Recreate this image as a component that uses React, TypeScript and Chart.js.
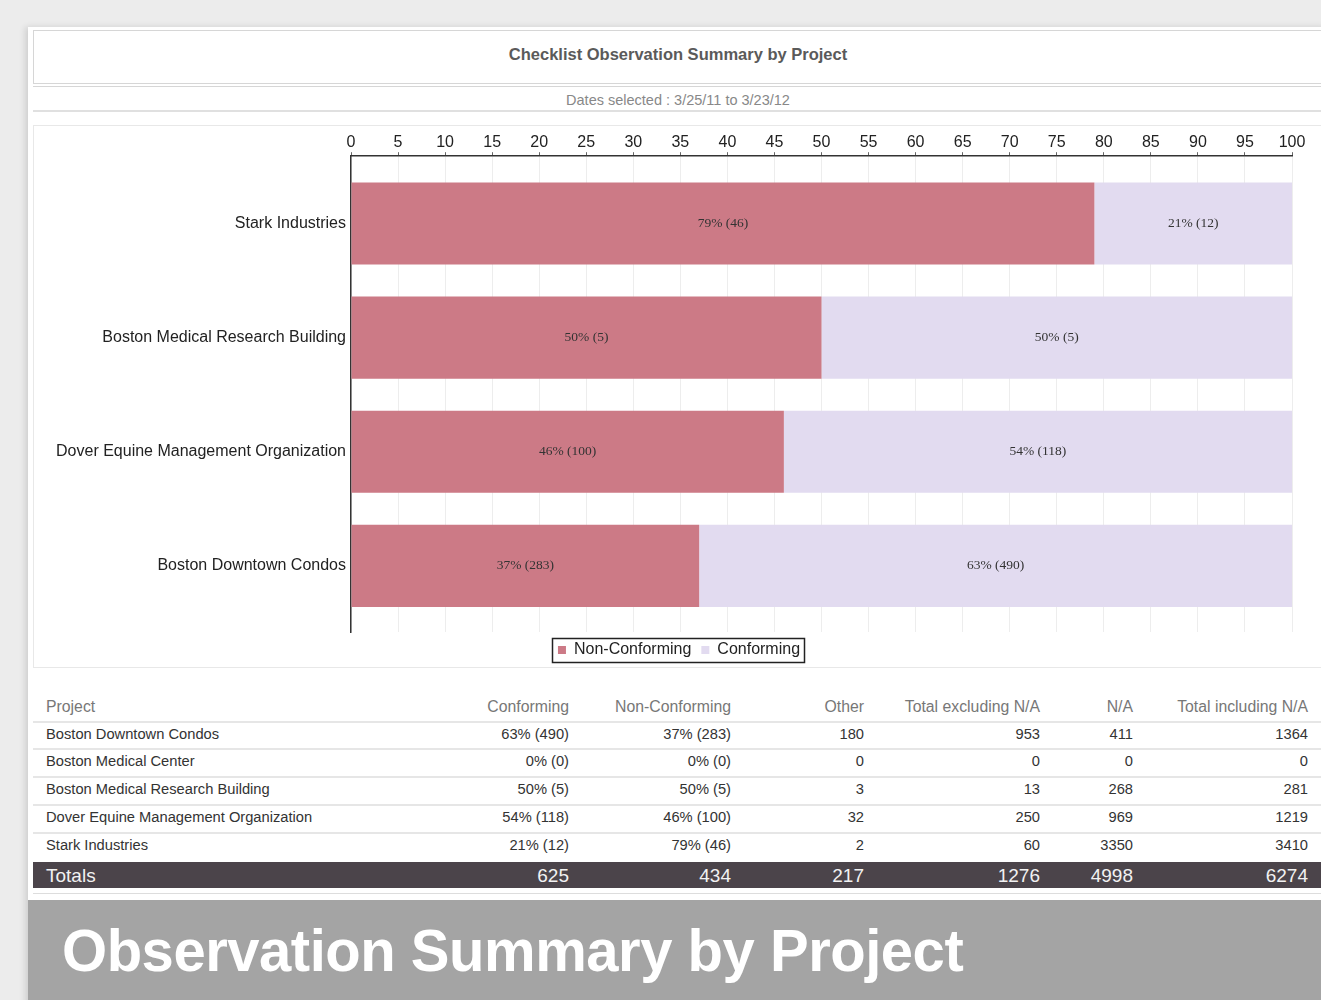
import React, { useEffect, useRef } from "react";
import { Chart, registerables } from "chart.js";

Chart.register(...registerables);

const projects = [
  "Stark Industries",
  "Boston Medical Research Building",
  "Dover Equine Management Organization",
  "Boston Downtown Condos",
];
const nonConformingPct = [79, 50, 46, 37];
const nonConformingCount = [46, 5, 100, 283];
const conformingPct = [21, 50, 54, 63];
const conformingCount = [12, 5, 118, 490];
const xTicks = [0, 100, 5];

const tableHeaders = ["Project", "Conforming", "Non-Conforming", "Other", "Total excluding N/A", "N/A", "Total including N/A"];
const tableProjects = ["Boston Downtown Condos", "Boston Medical Center", "Boston Medical Research Building", "Dover Equine Management Organization", "Stark Industries"];
const tableConforming = ["63% (490)", "0% (0)", "50% (5)", "54% (118)", "21% (12)"];
const tableNonConforming = ["37% (283)", "0% (0)", "50% (5)", "46% (100)", "79% (46)"];
const tableOther = ["180", "0", "3", "32", "2"];
const tableTotalExcl = ["953", "0", "13", "250", "60"];
const tableNA = ["411", "0", "268", "969", "3350"];
const tableTotalIncl = ["1364", "0", "281", "1219", "3410"];
const totalsRow = ["Totals", "625", "434", "217", "1276", "4998", "6274"];

const NC_COLOR = "rgb(204,122,134)";
const C_COLOR = "rgb(226,219,240)";
const FONT = "'Liberation Sans', Arial, sans-serif";

const colRight = [null, 569, 731, 864, 1040, 1133, 1308];

export default function App() {
  const ref = useRef<HTMLCanvasElement | null>(null);

  useEffect(() => {
    document.body.style.margin = "0";
    const canvas = ref.current;
    if (!canvas) return;
    const labelsPlugin = {
      id: "segLabels",
      afterLayout(chart: any) {
        if (chart.legend) chart.legend.left += 25;
      },
      afterDatasetsDraw(chart: any) {
        const ctx = chart.ctx;
        ctx.save();
        ctx.font = "13.5px 'Liberation Serif', 'DejaVu Serif', serif";
        ctx.fillStyle = "#333";
        ctx.textAlign = "center";
        ctx.textBaseline = "middle";
        chart.data.datasets.forEach((ds: any, di: number) => {
          const meta = chart.getDatasetMeta(di);
          meta.data.forEach((el: any, i: number) => {
            const cx = (el.x + el.base) / 2;
            ctx.fillText(ds.segText[i], cx, el.y);
          });
        });
        ctx.restore();
      },
      afterDraw(chart: any) {
        const lg = chart.legend;
        if (!lg || !lg.legendHitBoxes || !lg.legendHitBoxes.length) return;
        const hb = lg.legendHitBoxes;
        const l = Math.min(...hb.map((h: any) => h.left)) - 6;
        const r = Math.max(...hb.map((h: any) => h.left + h.width)) + 4;
        const t = Math.min(...hb.map((h: any) => h.top)) - 4;
        const b = Math.max(...hb.map((h: any) => h.top + h.height)) + 4;
        const ctx = chart.ctx;
        ctx.save();
        ctx.strokeStyle = "#222";
        ctx.lineWidth = 1.5;
        ctx.strokeRect(Math.round(l) + 0.5, Math.round(t) + 0.5, Math.round(r - l), Math.round(b - t));
        ctx.restore();
      },
    };
    const chart = new Chart(canvas, {
      type: "bar",
      data: {
        datasets: [
          {
            label: "Non-Conforming",
            data: nonConformingPct.map((v, i) => ({ x: v, y: i })),
            backgroundColor: NC_COLOR,
            borderWidth: 0,
            barPercentage: 0.72,
            categoryPercentage: 1,
            segText: nonConformingPct.map((p, i) => `${p}% (${nonConformingCount[i]})`),
          } as any,
          {
            label: "Conforming",
            data: conformingPct.map((v, i) => ({ x: v, y: i })),
            backgroundColor: C_COLOR,
            borderWidth: 0,
            barPercentage: 0.72,
            categoryPercentage: 1,
            segText: conformingPct.map((p, i) => `${p}% (${conformingCount[i]})`),
          } as any,
        ],
      },
      options: {
        indexAxis: "y",
        animation: false,
        responsive: false,
        maintainAspectRatio: false,
        layout: { padding: { left: 8, right: 29, top: 8, bottom: 0 } },
        scales: {
          x: {
            type: "linear",
            position: "top",
            stacked: true,
            min: xTicks[0],
            max: xTicks[1],
            ticks: { stepSize: xTicks[2], color: "#222", font: { size: 16, family: FONT }, padding: 0 },
            grid: { color: "rgba(0,0,0,0.07)", tickLength: 4, tickColor: "#666", drawOnChartArea: true },
            border: { color: "#333", width: 1.5 },
          },
          y: {
            type: "linear",
            stacked: true,
            reverse: true,
            offset: false,
            min: -0.59,
            max: 3.58,
            ticks: {
              stepSize: 1,
              includeBounds: false,
              color: "#222",
              font: { size: 16, family: FONT },
              padding: 5,
              callback: (v: number) => (Number.isInteger(v) && projects[v] !== undefined ? projects[v] : null),
            },
            grid: { display: false, drawTicks: false, tickLength: 0, offset: false },
            border: { color: "#333", width: 1.5 },
            afterFit(scale: any) {
              scale.width = 310;
            },
          },
        },
        plugins: {
          tooltip: { enabled: false },
          legend: {
            position: "bottom",
            labels: {
              boxWidth: 8,
              boxHeight: 8,
              color: "#222",
              font: { size: 16, family: FONT },
              padding: 10,
            },
          },
        },
      } as any,
      plugins: [labelsPlugin],
    });
    return () => chart.destroy();
  }, []);

  const rowsY = [735, 762, 790, 818, 846];
  const cellStyle = (col: number, y: number, size: number, color: string): React.CSSProperties => {
    if (col === 0) {
      return { position: "absolute", left: 46, top: y - size * 0.6, fontSize: size, color, whiteSpace: "nowrap", lineHeight: `${size * 1.2}px` };
    }
    return { position: "absolute", right: 1321 - (colRight[col] as number), top: y - size * 0.6, fontSize: size, color, whiteSpace: "nowrap", textAlign: "right", lineHeight: `${size * 1.2}px` };
  };
  const tableCols = [tableProjects, tableConforming, tableNonConforming, tableOther, tableTotalExcl, tableNA, tableTotalIncl];

  return (
    <div style={{ position: "absolute", left: 0, top: 0, width: 1321, height: 1000, overflow: "hidden", background: "#ececec", fontFamily: FONT }}>
      {/* paper */}
      <div style={{ position: "absolute", left: 28, top: 27, width: 1300, height: 980, background: "#fff", boxShadow: "-3px 0 6px rgba(0,0,0,0.12)" }} />
      {/* title box */}
      <div style={{ position: "absolute", left: 33, top: 30, width: 1290, height: 54, border: "1px solid #d6d6d6", boxSizing: "border-box" }} />
      <div style={{ position: "absolute", left: 33, width: 1290, top: 43, textAlign: "center", fontSize: 16.5, fontWeight: "bold", color: "#5a5a5a", lineHeight: "22px" }}>
        Checklist Observation Summary by Project
      </div>
      <div style={{ position: "absolute", left: 33, top: 86, width: 1290, height: 26, borderTop: "1px solid #d6d6d6", borderBottom: "2px solid #e0e0e0", boxSizing: "border-box" }} />
      <div style={{ position: "absolute", left: 33, width: 1290, top: 90, textAlign: "center", fontSize: 14.5, color: "#888", lineHeight: "20px" }}>
        Dates selected : 3/25/11 to 3/23/12
      </div>
      {/* chart box */}
      <div style={{ position: "absolute", left: 33, top: 125, width: 1290, height: 543, border: "1px solid #e8e8e8", boxSizing: "border-box" }} />
      <canvas ref={ref} width={1288} height={543} style={{ position: "absolute", left: 33, top: 125, width: 1288, height: 543 }} />
      {/* table */}
      {tableHeaders.map((h, c) => (
        <div key={"h" + c} style={cellStyle(c, 707, 15.8, "#777")}>{h}</div>
      ))}
      {[721, 748, 776, 804, 832].map((y, i) => (
        <div key={"s" + i} style={{ position: "absolute", left: 33, width: 1290, top: y, height: 2, background: "#e6e6e6" }} />
      ))}
      {rowsY.map((y, r) =>
        tableCols.map((col, c) => (
          <div key={`r${r}c${c}`} style={cellStyle(c, y, 14.7, "#333")}>{col[r]}</div>
        ))
      )}
      <div style={{ position: "absolute", left: 33, top: 862, width: 1290, height: 26, background: "#4b444a" }} />
      {totalsRow.map((t, c) => (
        <div key={"t" + c} style={cellStyle(c, 876, 19, "#f2f2f2")}>{t}</div>
      ))}
      <div style={{ position: "absolute", left: 33, top: 893, width: 1290, height: 1, background: "#ddd" }} />
      {/* banner */}
      <div style={{ position: "absolute", left: 28, top: 900, width: 1300, height: 100, background: "#a4a4a4" }} />
      <div style={{ position: "absolute", left: 62, top: 915, fontSize: 60, fontWeight: "bold", color: "#fff", whiteSpace: "nowrap", lineHeight: "72px", transform: "scaleX(0.967)", transformOrigin: "left center", letterSpacing: -0.5 }}>
        Observation Summary by Project
      </div>
    </div>
  );
}
